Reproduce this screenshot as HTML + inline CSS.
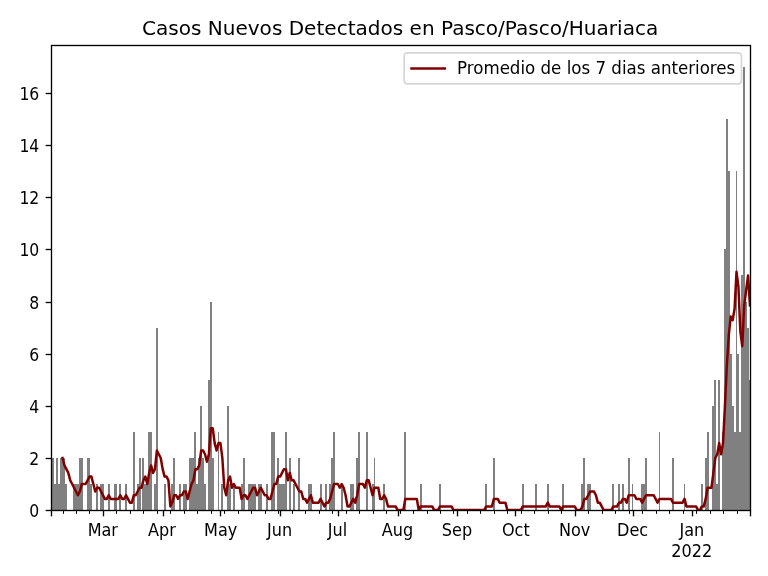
<!DOCTYPE html><html><head><meta charset="utf-8"><style>html,body{margin:0;padding:0;background:#fff;}svg{display:block;will-change:transform;}text{font-family:"DejaVu Sans","Liberation Sans",sans-serif;fill:#000;}</style></head><body>
<svg width="768" height="576" viewBox="0 0 768 576">
<rect width="768" height="576" fill="#fff"/>
<path fill="#808080" shape-rendering="crispEdges" d="M52 458H54V511H52ZM54 484H56V511H54ZM56 458H58V511H56ZM58 484H60V511H58ZM60 458H62V511H60ZM62 458H63V511H62ZM63 458H65V511H63ZM65 484H67V511H65ZM73 484H75V511H73ZM75 484H77V511H75ZM77 484H79V511H77ZM79 458H81V511H79ZM81 458H83V511H81ZM87 458H89V511H87ZM89 458H90V511H89ZM90 484H92V511H90ZM96 484H98V511H96ZM100 484H102V511H100ZM102 484H104V511H102ZM108 484H110V511H108ZM114 484H115V511H114ZM115 484H117V511H115ZM119 484H121V511H119ZM125 484H127V511H125ZM133 432H135V511H133ZM137 484H139V511H137ZM139 458H141V511H139ZM142 458H144V511H142ZM144 484H146V511H144ZM146 484H148V511H146ZM148 432H150V511H148ZM150 432H152V511H150ZM154 484H156V511H154ZM156 328H158V511H156ZM164 484H166V511H164ZM171 484H173V511H171ZM173 458H175V511H173ZM179 484H181V511H179ZM183 484H185V511H183ZM185 484H187V511H185ZM189 458H191V511H189ZM191 458H193V511H191ZM193 458H194V511H193ZM194 432H196V511H194ZM196 484H198V511H196ZM198 458H200V511H198ZM200 406H202V511H200ZM202 458H204V511H202ZM204 484H206V511H204ZM208 380H210V511H208ZM210 302H212V511H210ZM212 458H214V511H212ZM218 432H219V511H218ZM221 484H223V511H221ZM227 406H229V511H227ZM229 484H231V511H229ZM233 484H235V511H233ZM241 484H243V511H241ZM243 458H245V511H243ZM248 484H250V511H248ZM250 484H252V511H250ZM252 484H254V511H252ZM254 484H256V511H254ZM258 484H260V511H258ZM260 484H262V511H260ZM266 484H268V511H266ZM271 432H273V511H271ZM273 432H275V511H273ZM277 458H279V511H277ZM279 484H281V511H279ZM281 484H283V511H281ZM283 484H285V511H283ZM285 432H287V511H285ZM289 458H291V511H289ZM293 484H295V511H293ZM298 458H300V511H298ZM308 484H310V511H308ZM310 484H312V511H310ZM320 484H322V511H320ZM325 484H327V511H325ZM329 484H331V511H329ZM331 458H333V511H331ZM333 432H335V511H333ZM341 484H343V511H341ZM350 484H352V511H350ZM352 484H354V511H352ZM356 458H358V511H356ZM358 432H360V511H358ZM366 432H368V511H366ZM372 484H374V511H372ZM374 458H375V511H374ZM383 484H385V511H383ZM404 432H406V511H404ZM420 484H422V511H420ZM439 484H441V511H439ZM485 484H487V511H485ZM493 458H495V511H493ZM522 484H524V511H522ZM535 484H537V511H535ZM547 484H549V511H547ZM562 484H564V511H562ZM581 484H583V511H581ZM583 458H585V511H583ZM587 484H589V511H587ZM589 484H591V511H589ZM612 484H614V511H612ZM618 484H620V511H618ZM622 484H624V511H622ZM628 458H630V511H628ZM632 484H633V511H632ZM641 484H643V511H641ZM643 484H645V511H643ZM645 458H647V511H645ZM659 432H660V511H659ZM672 458H674V511H672ZM684 484H685V511H684ZM701 484H703V511H701ZM705 458H707V511H705ZM707 432H709V511H707ZM712 406H714V511H712ZM714 380H716V511H714ZM716 484H718V511H716ZM718 380H720V511H718ZM722 432H724V511H722ZM724 249H726V511H724ZM726 119H728V511H726ZM728 171H730V511H728ZM730 354H732V511H730ZM732 406H734V511H732ZM734 432H736V511H734ZM736 171H737V511H736ZM737 354H739V511H737ZM739 432H741V511H739ZM741 275H743V511H741ZM743 67H745V511H743ZM745 302H747V511H745ZM747 328H749V511H747ZM749 380H751V511H749Z"/>
<clipPath id="c"><rect x="51.5" y="45.5" width="699" height="465"/></clipPath>
<polyline clip-path="url(#c)" fill="none" stroke="#800000" stroke-width="2.5" stroke-linejoin="round" stroke-linecap="square" points="62.53,457.98 64.45,465.43 66.38,469.15 68.30,472.87 70.23,480.32 72.16,484.04 74.08,487.76 76.01,491.49 77.93,495.21 79.86,491.49 81.78,484.04 83.71,484.04 85.64,484.04 87.56,480.32 89.49,476.59 91.41,476.59 93.34,484.04 95.26,491.49 97.19,487.76 99.11,487.76 101.04,491.49 102.97,495.21 104.89,498.93 106.82,498.93 108.74,495.21 110.67,498.93 112.59,498.93 114.52,498.93 116.45,498.93 118.37,498.93 120.30,495.21 122.22,498.93 124.15,498.93 126.07,495.21 128.00,498.93 129.92,502.65 131.85,502.65 133.78,495.21 135.70,495.21 137.63,491.49 139.55,487.76 141.48,487.76 143.40,480.32 145.33,476.59 147.26,484.04 149.18,472.87 151.11,465.43 153.03,472.87 154.96,469.15 156.88,450.53 158.81,454.26 160.73,457.98 162.66,469.15 164.59,476.59 166.51,476.59 168.44,480.32 170.36,506.38 172.29,502.65 174.21,495.21 176.14,495.21 178.07,498.93 179.99,495.21 181.92,495.21 183.84,491.49 185.77,491.49 187.69,498.93 189.62,491.49 191.54,484.04 193.47,480.32 195.40,469.15 197.32,469.15 199.25,465.43 201.17,450.53 203.10,450.53 205.02,454.26 206.95,461.70 208.88,454.26 210.80,428.20 212.73,428.20 214.65,443.09 216.58,450.53 218.50,443.09 220.43,443.09 222.35,457.98 224.28,487.76 226.21,495.21 228.13,480.32 230.06,476.59 231.98,487.76 233.91,484.04 235.83,487.76 237.76,487.76 239.69,487.76 241.61,498.93 243.54,495.21 245.46,495.21 247.39,498.93 249.31,495.21 251.24,491.49 253.16,487.76 255.09,487.76 257.02,495.21 258.94,491.49 260.87,487.76 262.79,491.49 264.72,495.21 266.64,495.21 268.57,498.93 270.50,498.93 272.42,491.49 274.35,484.04 276.27,484.04 278.20,476.59 280.12,476.59 282.05,472.87 283.97,469.15 285.90,469.15 287.83,480.32 289.75,472.87 291.68,480.32 293.60,480.32 295.53,484.04 297.45,487.76 299.38,491.49 301.30,491.49 303.23,498.93 305.16,498.93 307.08,502.65 309.01,498.93 310.93,495.21 312.86,502.65 314.78,502.65 316.71,502.65 318.64,502.65 320.56,498.93 322.49,502.65 324.41,506.38 326.34,502.65 328.26,502.65 330.19,498.93 332.11,491.49 334.04,484.04 335.97,484.04 337.89,484.04 339.82,487.76 341.74,484.04 343.67,487.76 345.59,495.21 347.52,506.38 349.45,506.38 351.37,502.65 353.30,498.93 355.22,502.65 357.15,495.21 359.07,484.04 361.00,484.04 362.92,484.04 364.85,487.76 366.78,480.32 368.70,480.32 370.63,487.76 372.55,495.21 374.48,487.76 376.40,487.76 378.33,487.76 380.26,498.93 382.18,498.93 384.11,495.21 386.03,498.93 387.96,506.38 389.88,506.38 391.81,506.38 393.73,506.38 395.66,506.38 397.59,510.10 399.51,510.10 401.44,510.10 403.36,510.10 405.29,498.93 407.21,498.93 409.14,498.93 411.07,498.93 412.99,498.93 414.92,498.93 416.84,498.93 418.77,510.10 420.69,506.38 422.62,506.38 424.54,506.38 426.47,506.38 428.40,506.38 430.32,506.38 432.25,506.38 434.17,510.10 436.10,510.10 438.02,510.10 439.95,506.38 441.88,506.38 443.80,506.38 445.73,506.38 447.65,506.38 449.58,506.38 451.50,506.38 453.43,510.10 455.35,510.10 457.28,510.10 459.21,510.10 461.13,510.10 463.06,510.10 464.98,510.10 466.91,510.10 468.83,510.10 470.76,510.10 472.69,510.10 474.61,510.10 476.54,510.10 478.46,510.10 480.39,510.10 482.31,510.10 484.24,510.10 486.16,506.38 488.09,506.38 490.02,506.38 491.94,506.38 493.87,498.93 495.79,498.93 497.72,498.93 499.64,502.65 501.57,502.65 503.50,502.65 505.42,502.65 507.35,510.10 509.27,510.10 511.20,510.10 513.12,510.10 515.05,510.10 516.97,510.10 518.90,510.10 520.83,510.10 522.75,506.38 524.68,506.38 526.60,506.38 528.53,506.38 530.45,506.38 532.38,506.38 534.30,506.38 536.23,506.38 538.16,506.38 540.08,506.38 542.01,506.38 543.93,506.38 545.86,506.38 547.78,502.65 549.71,506.38 551.64,506.38 553.56,506.38 555.49,506.38 557.41,506.38 559.34,506.38 561.26,510.10 563.19,506.38 565.11,506.38 567.04,506.38 568.97,506.38 570.89,506.38 572.82,506.38 574.74,506.38 576.67,510.10 578.59,510.10 580.52,510.10 582.45,506.38 584.37,498.93 586.30,498.93 588.22,495.21 590.15,491.49 592.07,491.49 594.00,491.49 595.92,495.21 597.85,502.65 599.78,502.65 601.70,506.38 603.63,510.10 605.55,510.10 607.48,510.10 609.40,510.10 611.33,510.10 613.26,506.38 615.18,506.38 617.11,506.38 619.03,502.65 620.96,502.65 622.88,498.93 624.81,498.93 626.73,502.65 628.66,495.21 630.59,495.21 632.51,495.21 634.44,495.21 636.36,498.93 638.29,498.93 640.21,498.93 642.14,502.65 644.07,498.93 645.99,495.21 647.92,495.21 649.84,495.21 651.77,495.21 653.69,495.21 655.62,498.93 657.54,502.65 659.47,498.93 661.40,498.93 663.32,498.93 665.25,498.93 667.17,498.93 669.10,498.93 671.02,498.93 672.95,502.65 674.88,502.65 676.80,502.65 678.73,502.65 680.65,502.65 682.58,502.65 684.50,498.93 686.43,506.38 688.35,506.38 690.28,506.38 692.21,506.38 694.13,506.38 696.06,506.38 697.98,510.10 699.91,510.10 701.83,506.38 703.76,506.38 705.69,498.93 707.61,487.76 709.54,487.76 711.46,487.76 713.39,472.87 715.31,457.98 717.24,454.26 719.16,443.09 721.09,454.26 723.02,443.09 724.94,405.86 726.87,364.91 728.79,335.13 730.72,316.51 732.64,320.23 734.57,309.07 736.50,271.84 738.42,286.73 740.35,331.40 742.27,346.29 744.20,305.34 746.12,290.45 748.05,275.56 749.97,305.34"/>
<rect x="51.5" y="45.5" width="699" height="465" fill="none" stroke="#000" stroke-width="1.333"/>
<line x1="45.67" y1="510.5" x2="51.5" y2="510.5" stroke="#000" stroke-width="1.333"/>
<text transform="translate(39.3 516.70) scale(0.94 1.080)" font-size="16.667" text-anchor="end">0</text>
<line x1="45.67" y1="458.5" x2="51.5" y2="458.5" stroke="#000" stroke-width="1.333"/>
<text transform="translate(39.3 464.70) scale(0.94 1.080)" font-size="16.667" text-anchor="end">2</text>
<line x1="45.67" y1="406.5" x2="51.5" y2="406.5" stroke="#000" stroke-width="1.333"/>
<text transform="translate(39.3 412.70) scale(0.94 1.080)" font-size="16.667" text-anchor="end">4</text>
<line x1="45.67" y1="354.5" x2="51.5" y2="354.5" stroke="#000" stroke-width="1.333"/>
<text transform="translate(39.3 360.70) scale(0.94 1.080)" font-size="16.667" text-anchor="end">6</text>
<line x1="45.67" y1="302.5" x2="51.5" y2="302.5" stroke="#000" stroke-width="1.333"/>
<text transform="translate(39.3 308.70) scale(0.94 1.080)" font-size="16.667" text-anchor="end">8</text>
<line x1="45.67" y1="249.5" x2="51.5" y2="249.5" stroke="#000" stroke-width="1.333"/>
<text transform="translate(39.3 255.70) scale(0.94 1.080)" font-size="16.667" text-anchor="end">10</text>
<line x1="45.67" y1="197.5" x2="51.5" y2="197.5" stroke="#000" stroke-width="1.333"/>
<text transform="translate(39.3 203.70) scale(0.94 1.080)" font-size="16.667" text-anchor="end">12</text>
<line x1="45.67" y1="145.5" x2="51.5" y2="145.5" stroke="#000" stroke-width="1.333"/>
<text transform="translate(39.3 151.70) scale(0.94 1.080)" font-size="16.667" text-anchor="end">14</text>
<line x1="45.67" y1="93.5" x2="51.5" y2="93.5" stroke="#000" stroke-width="1.333"/>
<text transform="translate(39.3 99.70) scale(0.94 1.080)" font-size="16.667" text-anchor="end">16</text>
<line x1="63.5" y1="510.5" x2="63.5" y2="513.83" stroke="#000" stroke-width="1"/>
<line x1="76.5" y1="510.5" x2="76.5" y2="513.83" stroke="#000" stroke-width="1"/>
<line x1="89.5" y1="510.5" x2="89.5" y2="513.83" stroke="#000" stroke-width="1"/>
<line x1="103.5" y1="510.5" x2="103.5" y2="513.83" stroke="#000" stroke-width="1"/>
<line x1="116.5" y1="510.5" x2="116.5" y2="513.83" stroke="#000" stroke-width="1"/>
<line x1="130.5" y1="510.5" x2="130.5" y2="513.83" stroke="#000" stroke-width="1"/>
<line x1="143.5" y1="510.5" x2="143.5" y2="513.83" stroke="#000" stroke-width="1"/>
<line x1="157.5" y1="510.5" x2="157.5" y2="513.83" stroke="#000" stroke-width="1"/>
<line x1="170.5" y1="510.5" x2="170.5" y2="513.83" stroke="#000" stroke-width="1"/>
<line x1="184.5" y1="510.5" x2="184.5" y2="513.83" stroke="#000" stroke-width="1"/>
<line x1="197.5" y1="510.5" x2="197.5" y2="513.83" stroke="#000" stroke-width="1"/>
<line x1="211.5" y1="510.5" x2="211.5" y2="513.83" stroke="#000" stroke-width="1"/>
<line x1="224.5" y1="510.5" x2="224.5" y2="513.83" stroke="#000" stroke-width="1"/>
<line x1="238.5" y1="510.5" x2="238.5" y2="513.83" stroke="#000" stroke-width="1"/>
<line x1="251.5" y1="510.5" x2="251.5" y2="513.83" stroke="#000" stroke-width="1"/>
<line x1="265.5" y1="510.5" x2="265.5" y2="513.83" stroke="#000" stroke-width="1"/>
<line x1="278.5" y1="510.5" x2="278.5" y2="513.83" stroke="#000" stroke-width="1"/>
<line x1="292.5" y1="510.5" x2="292.5" y2="513.83" stroke="#000" stroke-width="1"/>
<line x1="305.5" y1="510.5" x2="305.5" y2="513.83" stroke="#000" stroke-width="1"/>
<line x1="319.5" y1="510.5" x2="319.5" y2="513.83" stroke="#000" stroke-width="1"/>
<line x1="332.5" y1="510.5" x2="332.5" y2="513.83" stroke="#000" stroke-width="1"/>
<line x1="346.5" y1="510.5" x2="346.5" y2="513.83" stroke="#000" stroke-width="1"/>
<line x1="359.5" y1="510.5" x2="359.5" y2="513.83" stroke="#000" stroke-width="1"/>
<line x1="373.5" y1="510.5" x2="373.5" y2="513.83" stroke="#000" stroke-width="1"/>
<line x1="386.5" y1="510.5" x2="386.5" y2="513.83" stroke="#000" stroke-width="1"/>
<line x1="400.5" y1="510.5" x2="400.5" y2="513.83" stroke="#000" stroke-width="1"/>
<line x1="413.5" y1="510.5" x2="413.5" y2="513.83" stroke="#000" stroke-width="1"/>
<line x1="427.5" y1="510.5" x2="427.5" y2="513.83" stroke="#000" stroke-width="1"/>
<line x1="440.5" y1="510.5" x2="440.5" y2="513.83" stroke="#000" stroke-width="1"/>
<line x1="453.5" y1="510.5" x2="453.5" y2="513.83" stroke="#000" stroke-width="1"/>
<line x1="467.5" y1="510.5" x2="467.5" y2="513.83" stroke="#000" stroke-width="1"/>
<line x1="480.5" y1="510.5" x2="480.5" y2="513.83" stroke="#000" stroke-width="1"/>
<line x1="494.5" y1="510.5" x2="494.5" y2="513.83" stroke="#000" stroke-width="1"/>
<line x1="507.5" y1="510.5" x2="507.5" y2="513.83" stroke="#000" stroke-width="1"/>
<line x1="521.5" y1="510.5" x2="521.5" y2="513.83" stroke="#000" stroke-width="1"/>
<line x1="534.5" y1="510.5" x2="534.5" y2="513.83" stroke="#000" stroke-width="1"/>
<line x1="548.5" y1="510.5" x2="548.5" y2="513.83" stroke="#000" stroke-width="1"/>
<line x1="561.5" y1="510.5" x2="561.5" y2="513.83" stroke="#000" stroke-width="1"/>
<line x1="575.5" y1="510.5" x2="575.5" y2="513.83" stroke="#000" stroke-width="1"/>
<line x1="588.5" y1="510.5" x2="588.5" y2="513.83" stroke="#000" stroke-width="1"/>
<line x1="602.5" y1="510.5" x2="602.5" y2="513.83" stroke="#000" stroke-width="1"/>
<line x1="615.5" y1="510.5" x2="615.5" y2="513.83" stroke="#000" stroke-width="1"/>
<line x1="629.5" y1="510.5" x2="629.5" y2="513.83" stroke="#000" stroke-width="1"/>
<line x1="642.5" y1="510.5" x2="642.5" y2="513.83" stroke="#000" stroke-width="1"/>
<line x1="656.5" y1="510.5" x2="656.5" y2="513.83" stroke="#000" stroke-width="1"/>
<line x1="669.5" y1="510.5" x2="669.5" y2="513.83" stroke="#000" stroke-width="1"/>
<line x1="683.5" y1="510.5" x2="683.5" y2="513.83" stroke="#000" stroke-width="1"/>
<line x1="696.5" y1="510.5" x2="696.5" y2="513.83" stroke="#000" stroke-width="1"/>
<line x1="710.5" y1="510.5" x2="710.5" y2="513.83" stroke="#000" stroke-width="1"/>
<line x1="723.5" y1="510.5" x2="723.5" y2="513.83" stroke="#000" stroke-width="1"/>
<line x1="737.5" y1="510.5" x2="737.5" y2="513.83" stroke="#000" stroke-width="1"/>
<line x1="51.5" y1="510.5" x2="51.5" y2="516.33" stroke="#000" stroke-width="1.333"/>
<line x1="750.5" y1="510.5" x2="750.5" y2="516.33" stroke="#000" stroke-width="1.333"/>
<line x1="103.5" y1="510.5" x2="103.5" y2="516.33" stroke="#000" stroke-width="1.333"/>
<text transform="translate(102.80 535.75) scale(0.965 1.080)" font-size="16.667" text-anchor="middle">Mar</text>
<line x1="163.5" y1="510.5" x2="163.5" y2="516.33" stroke="#000" stroke-width="1.333"/>
<text transform="translate(162.00 535.75) scale(0.965 1.080)" font-size="16.667" text-anchor="middle">Apr</text>
<line x1="220.5" y1="510.5" x2="220.5" y2="516.33" stroke="#000" stroke-width="1.333"/>
<text transform="translate(220.70 535.75) scale(0.965 1.080)" font-size="16.667" text-anchor="middle">May</text>
<line x1="280.5" y1="510.5" x2="280.5" y2="516.33" stroke="#000" stroke-width="1.333"/>
<text transform="translate(279.60 535.75) scale(0.965 1.080)" font-size="16.667" text-anchor="middle">Jun</text>
<line x1="338.5" y1="510.5" x2="338.5" y2="516.33" stroke="#000" stroke-width="1.333"/>
<text transform="translate(337.50 535.75) scale(0.965 1.080)" font-size="16.667" text-anchor="middle">Jul</text>
<line x1="398.5" y1="510.5" x2="398.5" y2="516.33" stroke="#000" stroke-width="1.333"/>
<text transform="translate(397.50 535.75) scale(0.965 1.080)" font-size="16.667" text-anchor="middle">Aug</text>
<line x1="457.5" y1="510.5" x2="457.5" y2="516.33" stroke="#000" stroke-width="1.333"/>
<text transform="translate(457.00 535.75) scale(0.965 1.080)" font-size="16.667" text-anchor="middle">Sep</text>
<line x1="515.5" y1="510.5" x2="515.5" y2="516.33" stroke="#000" stroke-width="1.333"/>
<text transform="translate(515.80 535.75) scale(0.965 1.080)" font-size="16.667" text-anchor="middle">Oct</text>
<line x1="575.5" y1="510.5" x2="575.5" y2="516.33" stroke="#000" stroke-width="1.333"/>
<text transform="translate(574.70 535.75) scale(0.965 1.080)" font-size="16.667" text-anchor="middle">Nov</text>
<line x1="633.5" y1="510.5" x2="633.5" y2="516.33" stroke="#000" stroke-width="1.333"/>
<text transform="translate(632.60 535.75) scale(0.965 1.080)" font-size="16.667" text-anchor="middle">Dec</text>
<line x1="692.5" y1="510.5" x2="692.5" y2="516.33" stroke="#000" stroke-width="1.333"/>
<text transform="translate(691.80 535.75) scale(0.965 1.080)" font-size="16.667" text-anchor="middle">Jan</text>
<text transform="translate(691.70 556.6) scale(0.965 1.080)" font-size="16.667" text-anchor="middle">2022</text>
<text transform="translate(400.1 34.9) scale(1.002 1)" font-size="20" text-anchor="middle">Casos Nuevos Detectados en Pasco/Pasco/Huariaca</text>
<rect x="404.1" y="52.9" width="337.4" height="30.9" rx="3.33" ry="3.33" fill="#fff" fill-opacity="0.8" stroke="#d6d6d6" stroke-width="1.667"/>
<line x1="411.5" y1="68.5" x2="444.8" y2="68.5" stroke="#800000" stroke-width="2.5" stroke-linecap="square"/>
<text transform="translate(457.0 73.7) scale(1 1.080)" font-size="16.667">Promedio de los 7 dias anteriores</text>
</svg></body></html>
